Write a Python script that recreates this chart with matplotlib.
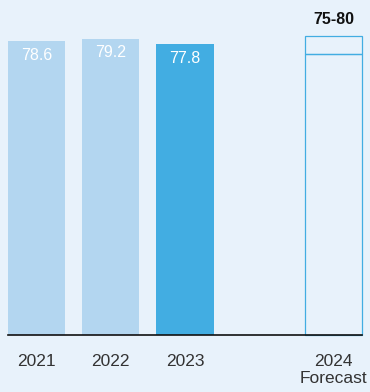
import matplotlib.pyplot as plt

plt.rcParams['font.family'] = ['Liberation Sans', 'DejaVu Sans']

years = ['2021', '2022', '2023']
values = [78.6, 79.2, 77.8]
labels = ['78.6', '79.2', '77.8']
colors = ['#b3d6f0', '#b3d6f0', '#42ade2']
forecast_low = 75
forecast_high = 80
forecast_label = '75-80'
forecast_year = '2024\nForecast'

bg = '#e8f2fb'
fig = plt.figure(figsize=(3.7, 3.92), dpi=100, facecolor=bg)
ax = fig.add_axes([8 / 370, 57 / 392, 354 / 370, 335 / 392])
ax.set_facecolor(bg)

x = [0, 1, 2]
w = 0.77
ax.bar(x, values, width=w, color=colors)
for xi, v, lab in zip(x, values, labels):
    ax.text(xi, v - 3.8, lab, ha='center', va='center', color='white', fontsize=11.5)

# forecast range box
b1 = ax.bar(4, forecast_low, width=w, fill=False, edgecolor='#42ade2', linewidth=0.9)
b2 = ax.bar(4, forecast_high - forecast_low, bottom=forecast_low, width=w, fill=False,
            edgecolor='#42ade2', linewidth=0.9)
for p in list(b1) + list(b2):
    p.set_clip_on(False)
ax.text(4, forecast_high + 4.3, forecast_label, ha='center', va='center',
        fontsize=11.5, fontweight='bold', color='#111111')

ax.set_xlim(-0.385, 4.385)
ax.set_ylim(0, 89.5)
ax.set_xticks([0, 1, 2, 4])
ax.set_xticklabels(years + [forecast_year], fontsize=12.5, color='#333333', linespacing=1.15)
ax.tick_params(axis='x', length=0, pad=14)
ax.set_yticks([])
for s in ['top', 'right', 'left']:
    ax.spines[s].set_visible(False)
ax.spines['bottom'].set_color('#111111')
ax.spines['bottom'].set_linewidth(1.2)

fig.savefig('out.png', dpi=100, facecolor=bg)
